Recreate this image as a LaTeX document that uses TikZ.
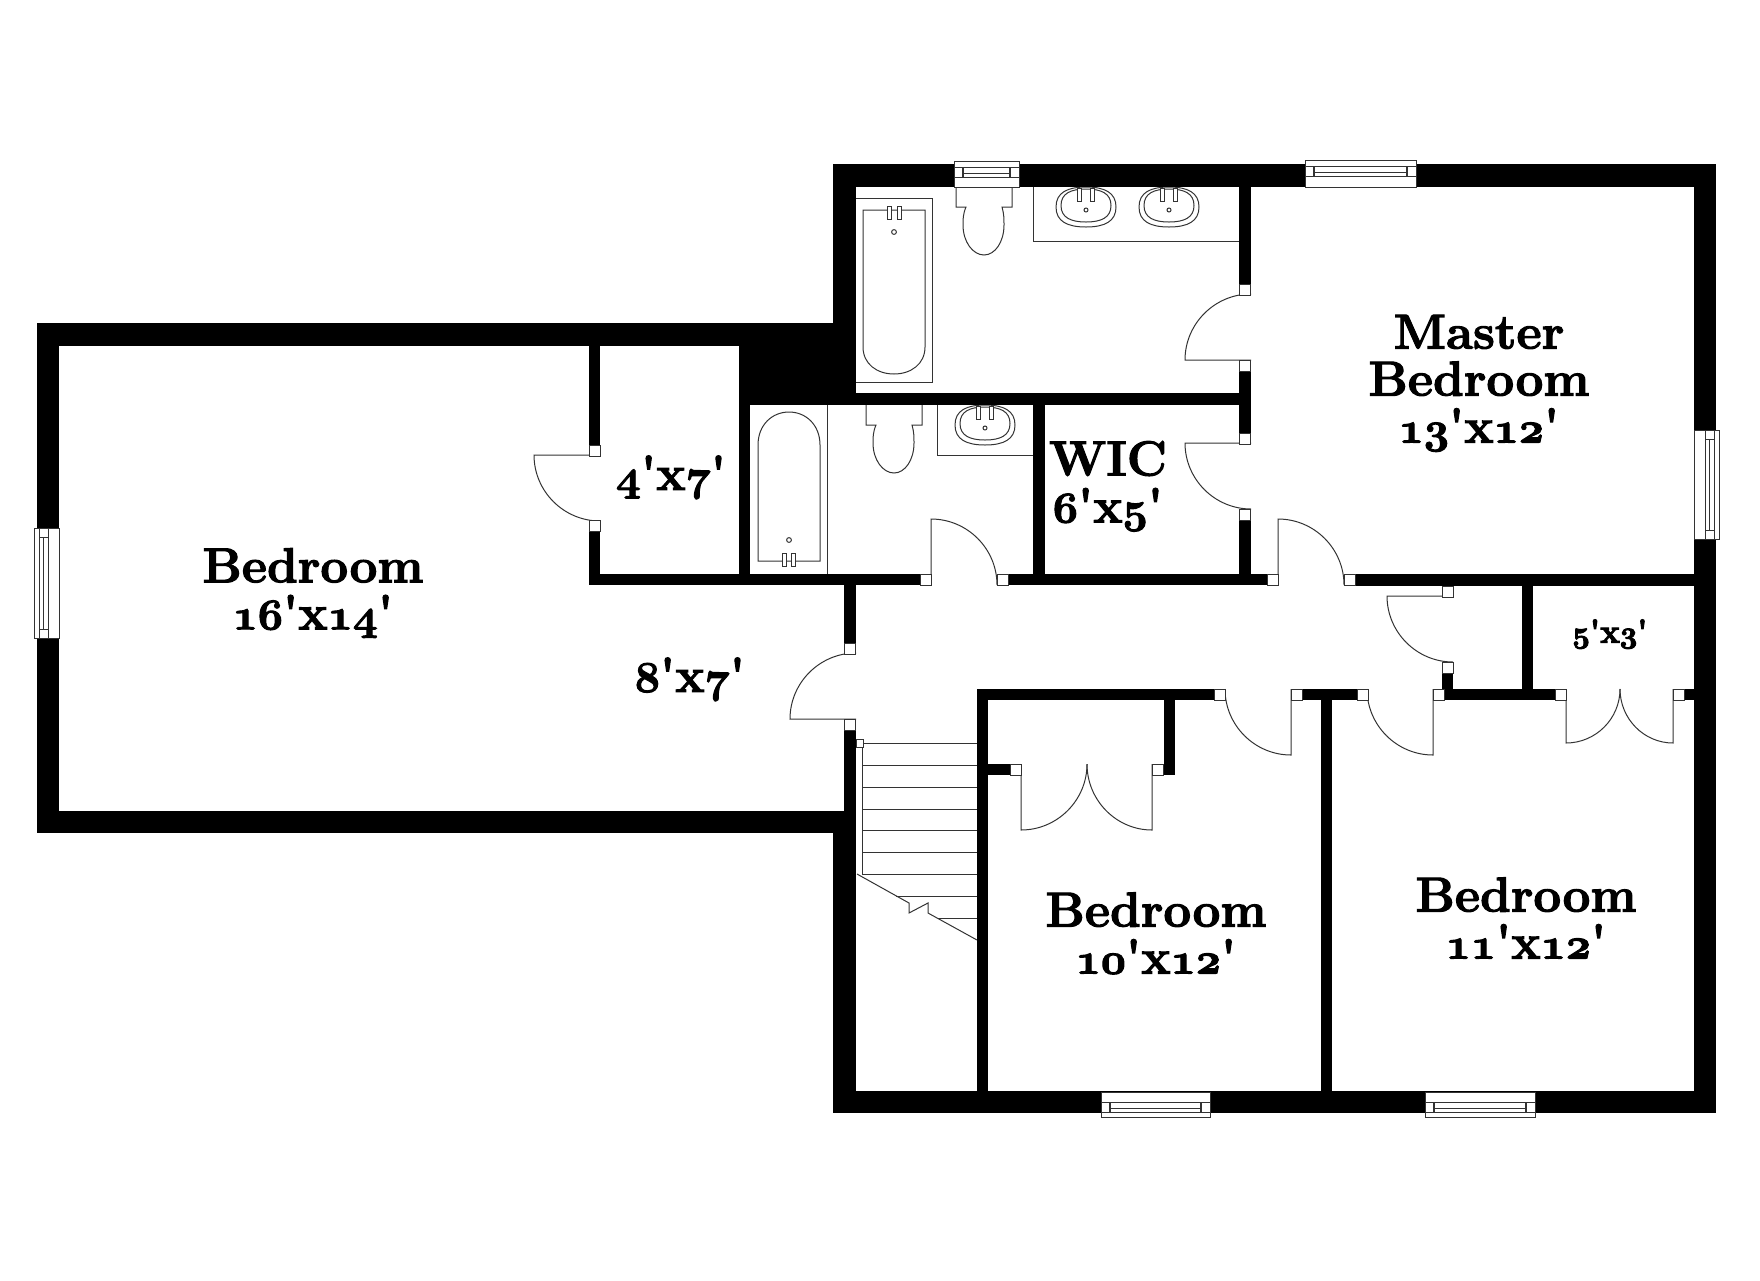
\documentclass[tikz,border=0pt]{standalone}
\usetikzlibrary{positioning}
\tikzset{
  wallfill/.style={fill=black},
  fixture/.style={draw=black!80,line width=0.5pt},
  roomlabel/.style={inner sep=0pt,align=center,text=black,font=\bfseries\fontsize{24.6}{23.5}\selectfont},
  smalllabel/.style={inner sep=0pt,align=center,text=black,font=\bfseries\fontsize{16.5}{16}\selectfont}
}
\newcommand{\heavy}{\special{pdf:code 2 Tr 0.55 w}}
\newcommand{\digs}[1]{\scalebox{0.88}{\usefont{OML}{cmm}{b}{it}#1}}
\newcommand{\dims}[2]{\digs{#1}\textquotesingle x\digs{#2}\textquotesingle}
\newcommand{\jamb}[2]{\draw[fixture,fill=white] (#1,#2) rectangle ({#1+11},{#2+11});}
\newcommand{\door}[6]{
  \draw[fixture] (#1,#2) -- ({#1+#3},{#2+#4})
    .. controls ({#1+#3+0.55*#5},{#2+#4+0.55*#6}) and ({#1+#5+0.55*#3},{#2+#6+0.55*#4})
    .. ({#1+#5},{#2+#6});
}
\newcommand{\hwin}[5]{
  \draw[fixture,fill=white] (#1,#2) rectangle (#3,#4);
  \draw[fixture] (#1,#5) -- (#3,#5) (#1,{#5+10}) -- (#3,{#5+10});
  \draw[fixture] ({#1+9},{#5+6}) -- ({#3-9},{#5+6});
  \draw[fixture,line width=1pt] ({#1+9},#5) -- ({#1+9},{#5+10}) ({#3-9},#5) -- ({#3-9},{#5+10});
}
\newcommand{\vwin}[5]{
  \draw[fixture,fill=white] (#1,#2) rectangle (#3,#4);
  \draw[fixture] (#5,#2) -- (#5,#4) ({#5+9},#2) -- ({#5+9},#4);
  \draw[fixture] ({#5+4},{#2+9}) -- ({#5+4},{#4-9});
  \draw[fixture] (#5,{#2+9}) -- ({#5+9},{#2+9}) (#5,{#4-9}) -- ({#5+9},{#4-9});
}
\newcommand{\tap}[3]{\draw[fixture,fill=white] ({#1-2},#2) rectangle ({#1+2},#3);}
\newcommand{\basin}[4]{
  \draw[fixture] ({#1-#3},#2) .. controls ({#1-#3},{#2-0.72*#4}) and ({#1-0.62*#3},{#2-#4}) .. (#1,{#2-#4})
    .. controls ({#1+0.62*#3},{#2-#4}) and ({#1+#3},{#2-0.72*#4}) .. ({#1+#3},#2)
    .. controls ({#1+#3},{#2+0.72*#4}) and ({#1+0.62*#3},{#2+#4}) .. (#1,{#2+#4})
    .. controls ({#1-0.62*#3},{#2+#4}) and ({#1-#3},{#2+0.72*#4}) .. cycle;
}
\newcommand{\sink}[2]{
  \basin{#1}{#2}{30}{20}
  \basin{#1}{#2-1.5}{25}{16.5}
  \tap{#1-6.5}{{#2-19}}{{#2-6}}
  \tap{#1+6.5}{{#2-19}}{{#2-6}}
  \draw[fixture] (#1,{#2+3}) circle (1pt);
}
\newcommand{\toilet}[2]{
  \begin{scope}[shift={(#1,#2)}]
    \draw[fixture] (0,0) -- (0,20) -- (10,20) .. controls (7,27) and (7,32) .. (7,38)
      .. controls (7,55) and (17,68) .. (28,68) .. controls (39,68) and (48,55) .. (48,38)
      .. controls (48,32) and (48,27) .. (46,20) -- (56,20) -- (56,0);
  \end{scope}
}
\begin{document}
\begin{tikzpicture}[x=0.5pt,y=-0.5pt]
  \useasboundingbox (0,0) rectangle (1760,1280);

  % Plumbing
  % --------

  % upper bath
  \draw[fixture] (856,198) -- (932,198) -- (932,382) -- (856,382);
  \draw[fixture] (863,210) -- (925,210) -- (925,347) .. controls (925,364) and (911,374) .. (894,374)
    .. controls (877,374) and (863,364) .. (863,347) -- cycle;
  \tap{889}{206}{219}
  \tap{899}{206}{219}
  \draw[fixture] (894,232) circle (1.2pt);
  \toilet{956}{187}
  \draw[fixture] (1033,187) -- (1033,241) -- (1239,241);
  \sink{1086}{207}
  \sink{1169}{207}

  % lower bath
  \draw[fixture] (827,405) -- (827,574);
  \draw[fixture] (758,561) -- (820,561) -- (820,445) .. controls (820,425) and (806,412) .. (789,412)
    .. controls (772,412) and (758,425) .. (758,445) -- cycle;
  \tap{784}{553}{566}
  \tap{793}{553}{566}
  \draw[fixture] (789,540) circle (1.2pt);
  \toilet{866}{405}
  \draw[fixture] (937,405) -- (937,455) -- (1033,455);
  \sink{985}{425}

  % Stairs
  % ------

  \foreach \ty in {743,765,787,809,830,852,874}
  \draw[fixture] (862,\ty) -- (977,\ty);
  \draw[fixture] (896,896) -- (977,896) (938,918) -- (977,918);
  \draw[fixture] (862,747) -- (862,874);
  \draw[fixture] (857,874) -- (909,903) -- (909,913) -- (928,903) -- (928,913) -- (977,940);
  \draw[fixture,fill=white] (856,739) rectangle (863,747);

  % Doors
  % -----

  \door{1251}{360}{-66}{0}{0}{-66}
  \door{1251}{443}{-66}{0}{0}{66}
  \door{931}{585}{0}{-66}{66}{0}
  \door{1278}{585}{0}{-66}{66}{0}
  \door{1453}{596}{-66}{0}{0}{66}
  \door{600}{455}{-66}{0}{0}{66}
  \door{856}{719}{-66}{0}{0}{-66}
  \door{1433}{689}{0}{66}{-66}{0}
  \door{1291}{689}{0}{66}{-66}{0}
  \door{1566}{689}{0}{54}{54}{0}
  \door{1673}{689}{0}{54}{-53}{0}
  \door{1021}{764}{0}{66}{66}{0}
  \door{1152}{764}{0}{66}{-65}{0}

  % Walls
  % -----

  \foreach \xa/\ya/\xb/\yb in {833/164/1716/187, 37/323/856/346, 739/346/856/405, 833/164/856/346,
    856/393/1251/405, 37/323/59/833, 37/811/856/833, 833/811/856/1113, 833/1091/1716/1113,
    1694/164/1716/1113, 1239/187/1251/284, 1239/370/1251/433, 1239/520/1251/574,
    1033/405/1045/574, 589/346/600/445, 589/531/600/585, 739/346/750/574, 589/574/920/585,
    1007/574/1267/585, 1354/574/1694/586, 844/585/856/643, 844/730/856/811,
    1442/672/1453/689, 1443/689/1555/700, 1522/586/1533/689, 1684/689/1694/700,
    977/689/1214/700, 977/700/988/1091, 1164/700/1175/775, 988/764/1010/775,
    1302/689/1357/700, 1321/700/1332/1091}
  \fill[wallfill] (\xa,\ya) rectangle (\xb,\yb);

  \foreach \jx/\jy in {1239/284, 1239/360, 1239/433, 1239/509, 920/574, 997/574, 1267/574,
    1344/574, 589/445, 589/520, 1442/586, 1442/662, 1433/689, 1555/689, 1673/689, 1291/689,
    1214/689, 1357/689, 1152/764, 1010/764, 844/643, 844/719}
  {\jamb{\jx}{\jy}}

  % Windows
  % -------

  \hwin{954}{161}{1019}{187}{167}
  \hwin{1305}{160}{1416}{187}{166}
  \hwin{1101}{1092}{1210}{1117}{1102}
  \hwin{1425}{1092}{1535}{1117}{1102}
  \vwin{1694}{430}{1719}{539}{1705}
  \vwin{34}{528}{59}{638}{39}

  % Labels
  % ------

  \node[roomlabel] (bedroomA) at (313,593) {\heavy Bedroom\\\dims{16}{14}};
  \node[roomlabel] (master) at (1479,383) {\heavy Master\\Bedroom\\\dims{13}{12}};
  \node[roomlabel] (wic) at (1108,486) {\heavy WIC\\\dims{6}{5}};
  \node[roomlabel] (closetA) at (671,477) {\heavy\dims{4}{7}};
  \node[roomlabel] (hall) at (690,679) {\heavy\dims{8}{7}};
  \node[smalllabel] (closetB) at (1610,634) {\heavy\dims{5}{3}};
  \node[roomlabel] (bedroomB) at (1156,933) {\heavy Bedroom\\\dims{10}{12}};
  \node[roomlabel] (bedroomC) at (1526,918) {\heavy Bedroom\\\dims{11}{12}};
\end{tikzpicture}
\end{document}
